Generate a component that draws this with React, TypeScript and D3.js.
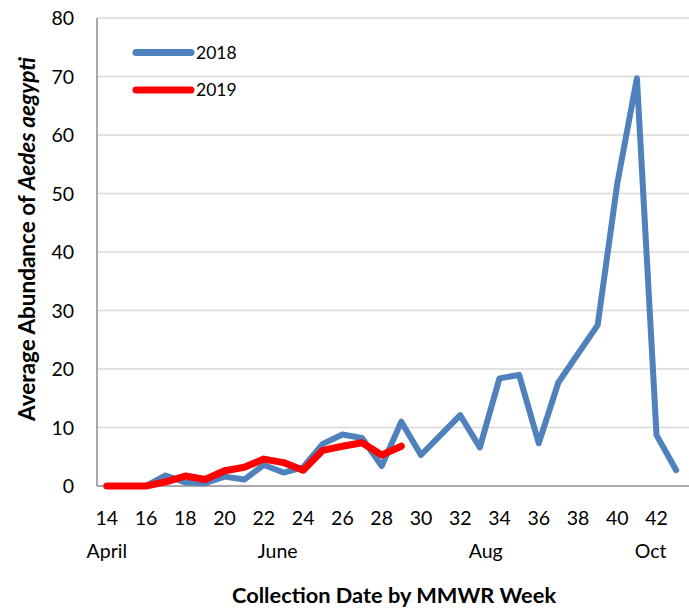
import * as d3 from "d3";
import { useEffect, useRef } from "react";

const weeks = d3.range(14, 44);
const tickWeeks = [14, 16, 18, 20, 22, 24, 26, 28, 30, 32, 34, 36, 38, 40, 42];
const yTicks = [0, 10, 20, 30, 40, 50, 60, 70, 80];

const abundance2018 = [
  0, 0, 0, 1.8, 0.6, 0.5, 1.6, 1.1, 3.6, 2.3, 3.2, 7.2, 8.8, 8.2, 3.4, 11.0,
  5.3, 8.7, 12.1, 6.6, 18.4, 19.0, 7.3, 17.7, 22.6, 27.5, 51.7, 69.7, 8.7, 2.7,
];
const abundance2019 = [
  0, 0, 0, 0.7, 1.7, 1.1, 2.6, 3.2, 4.6, 4.0, 2.7, 6.1, 6.8, 7.4, 5.3, 6.8,
];

const monthLabels = [
  { label: "April", week: 14 },
  { label: "June", week: 22.7 },
  { label: "Aug", week: 33.3 },
  { label: "Oct", week: 41.7 },
];

const series = [
  { name: "2018", values: abundance2018, color: "#4F81BD", width: 6 },
  { name: "2019", values: abundance2019, color: "#FF0000", width: 7 },
];

const width = 689;
const height = 609;

export default function App() {
  const svgRef = useRef<SVGSVGElement>(null);

  useEffect(() => {
    document.body.style.margin = "0";
    if (!svgRef.current) return;
    const svg = d3.select(svgRef.current);
    svg.selectAll("*").remove();

    const plot = { left: 97, right: 686, top: 18, bottom: 486 };
    const font = "Lato, 'Open Sans', sans-serif";

    // category axis: each week sits in the middle of its slot
    const step = (plot.right - plot.left) / weeks.length;
    const x = d3
      .scaleLinear()
      .domain([weeks[0], weeks[weeks.length - 1]])
      .range([plot.left + step / 2, plot.right - step / 2]);
    const y = d3.scaleLinear().domain([0, 80]).range([plot.bottom, plot.top]);

    // gridlines
    svg
      .append("g")
      .selectAll("line")
      .data(yTicks.filter((d) => d > 0))
      .enter()
      .append("line")
      .attr("x1", plot.left)
      .attr("x2", width)
      .attr("y1", (d) => y(d))
      .attr("y2", (d) => y(d))
      .style("stroke", "#D9D9D9")
      .style("stroke-width", 1.5);

    // axes lines
    svg
      .append("line")
      .attr("x1", plot.left)
      .attr("x2", plot.left)
      .attr("y1", plot.top)
      .attr("y2", plot.bottom)
      .style("stroke", "#8C8C8C")
      .style("stroke-width", 1.5);
    svg
      .append("line")
      .attr("x1", plot.left)
      .attr("x2", width)
      .attr("y1", plot.bottom)
      .attr("y2", plot.bottom)
      .style("stroke", "#8C8C8C")
      .style("stroke-width", 1.5);

    // y tick labels
    svg
      .append("g")
      .selectAll("text")
      .data(yTicks)
      .enter()
      .append("text")
      .attr("x", 74)
      .attr("y", (d) => y(d) + 7)
      .attr("text-anchor", "end")
      .style("font-family", font)
      .style("font-size", "19.5px")
      .style("fill", "#000")
      .text((d) => d);

    // x tick labels
    svg
      .append("g")
      .selectAll("text")
      .data(tickWeeks)
      .enter()
      .append("text")
      .attr("x", (d) => x(d))
      .attr("y", 525)
      .attr("text-anchor", "middle")
      .style("font-family", font)
      .style("font-size", "19.5px")
      .style("fill", "#000")
      .text((d) => d);

    // month labels
    svg
      .append("g")
      .selectAll("text")
      .data(monthLabels)
      .enter()
      .append("text")
      .attr("x", (d) => x(d.week))
      .attr("y", 558)
      .attr("text-anchor", "middle")
      .style("font-family", font)
      .style("font-size", "19.5px")
      .style("fill", "#000")
      .text((d) => d.label);

    // lines
    const line = d3
      .line<number>()
      .x((_, i) => x(weeks[i]))
      .y((d) => y(d));

    series.forEach((s) => {
      svg
        .append("path")
        .datum(s.values)
        .attr("d", line)
        .style("fill", "none")
        .style("stroke", s.color)
        .style("stroke-width", s.width)
        .style("stroke-linejoin", "round")
        .style("stroke-linecap", "round");
    });

    // legend
    const legendY = [52.5, 90];
    series.forEach((s, i) => {
      svg
        .append("line")
        .attr("x1", 136)
        .attr("x2", 191)
        .attr("y1", legendY[i])
        .attr("y2", legendY[i])
        .style("stroke", s.color)
        .style("stroke-width", 7)
        .style("stroke-linecap", "round");
      svg
        .append("text")
        .attr("x", 196)
        .attr("y", legendY[i] + 6)
        .style("font-family", font)
        .style("font-size", "17.5px")
        .style("fill", "#000")
        .text(s.name);
    });

    // axis titles
    svg
      .append("text")
      .attr("x", 394)
      .attr("y", 603)
      .attr("text-anchor", "middle")
      .style("font-family", font)
      .style("font-size", "21.8px")
      .style("font-weight", "bold")
      .style("fill", "#000")
      .text("Collection Date by MMWR Week");

    const yTitle = svg
      .append("text")
      .attr("transform", "translate(35,239) rotate(-90)")
      .attr("text-anchor", "middle")
      .style("font-family", font)
      .style("font-size", "22.5px")
      .style("font-weight", "bold")
      .style("fill", "#000");
    yTitle.append("tspan").text("Average Abundance of ");
    yTitle.append("tspan").style("font-style", "italic").text("Aedes aegypti");
  }, []);

  return (
    <svg
      ref={svgRef}
      width={width}
      height={height}
      style={{ display: "block", background: "#fff" }}
    />
  );
}
